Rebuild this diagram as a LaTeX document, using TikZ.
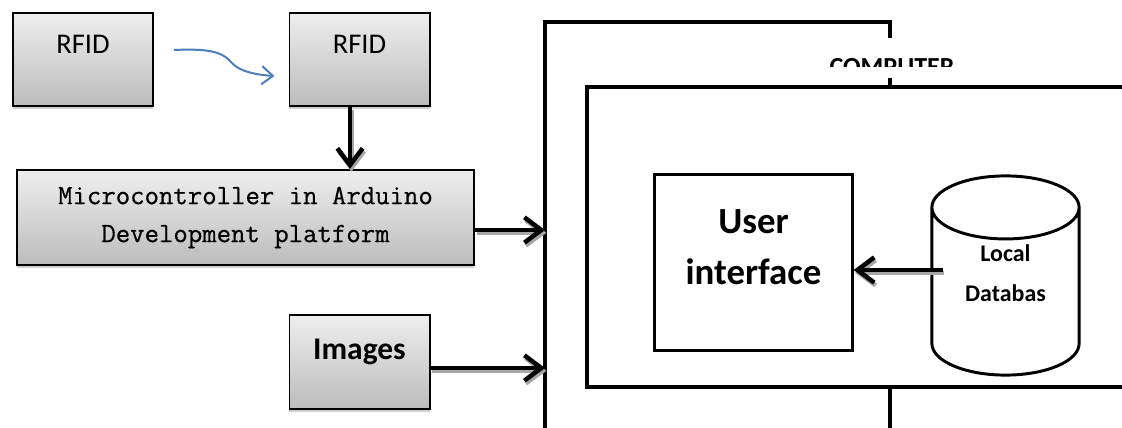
\documentclass[tikz,border=0pt]{standalone}
\usepackage{fontspec}
\setmainfont{Carlito}
\setmonofont{Latin Modern Mono}[FakeBold=0.6]
\usetikzlibrary{positioning, shapes.geometric, arrows.meta, shadows}
\definecolor{linkblue}{RGB}{74,126,187}
\definecolor{boxtop}{RGB}{238,238,238}
\definecolor{boxbottom}{RGB}{188,188,188}

\begin{document}
\begin{tikzpicture}[
  x=0.025cm, y=-0.025cm,
  gbox/.style={rectangle, draw=black, line width=1.4pt,
               top color=boxtop, bottom color=boxbottom,
               drop shadow={shadow xshift=0cm, shadow yshift=-0.08cm, fill=gray!75},
               inner sep=0pt, align=center},
  tagbox/.style={gbox, minimum width=3.5cm, minimum height=2.33cm,
                 text height=1.02cm, text depth=1.3cm,
                 font=\fontsize{20.3}{24}\selectfont},
  uibox/.style={rectangle, draw=black, line width=2.1pt, fill=white,
                minimum width=4.93cm, minimum height=4.38cm, align=center,
                text depth=0.75cm,
                font=\bfseries\fontsize{26.2}{36.3}\selectfont},
  dbcyl/.style={cylinder, shape border rotate=90, draw=black, line width=2.1pt,
                fill=white, aspect=0.7, minimum width=3.68cm, minimum height=4.78cm,
                align=center, text depth=1.2cm, anchor=shape center,
                font=\bfseries\fontsize{17}{28.5}\selectfont},
  frame/.style={line width=2.8pt, black},
  arr/.style={-{Straight Barb[length=12pt, width=18pt]}, line width=3.2pt, black,
              preaction={draw=gray!70, line width=3.2pt,
                         transform canvas={shift={(1pt,-2pt)}}}},
  link/.style={-{Straight Barb[length=8pt, width=13pt]}, line width=1.4pt, linkblue},
]
  \useasboundingbox (0,0) rectangle (1122,427);
  \clip (0,0) rectangle (1122,427);

  % computer frames
  \draw[frame] (545,440) -- (545,22) -- (890,22) -- (890,38);
  \draw[frame] (890,78) -- (890,87);
  \draw[frame] (890,387) -- (890,440);
  \draw[frame] (1140,87) -- (587,87) -- (587,387) -- (1140,387);
  \begin{scope}
    \clip (800,40) rectangle (990,67);
    \node[font=\bfseries\fontsize{18.5}{22}\selectfont, anchor=base] (comp) at (892,76) {COMPUTER};
  \end{scope}

  % input side
  \node[tagbox] (rfidA) at (83,59.5) {RFID};
  \node[tagbox] (rfidB) at (359.5,59.5) {RFID};
  \node[gbox, minimum width=11.43cm, minimum height=2.38cm,
        font=\ttfamily\fontsize{19.9}{27}\selectfont] (micro) at (245.5,217.5)
    {Microcontroller in Arduino\\Development platform};
  \node[tagbox, text height=1.08cm, text depth=1.22cm,
        font=\bfseries\fontsize{22.4}{26}\selectfont] (imgs) at (359.5,362) {Images};

  % inside the computer
  \node[uibox] (ui) at (753.5,262.5) {User\\interface};
  \node[dbcyl] (db) at (1005.5,275.5) {Local\\Databas};

  \coordinate (inA) at (545,230);
  \coordinate (inB) at (545,368);
  \coordinate (dbout) at (943,270);

  \draw[link] ([shift={(20,-9.5)}]rfidA.east)
    .. controls (215,48) and (224,54) .. (232,63)
    .. controls (240,72) and (258,75) .. ([shift={(-14,16.5)}]rfidB.west);
  \draw[arr] ([shift={(-9.5,0)}]rfidB.south) -- ([shift={(-9.5,0)}]rfidB.south |- micro.north);
  \draw[arr] (micro.east |- inA) -- (inA);
  \draw[arr] (imgs.east |- inB) -- (inB);
  \draw[arr] (dbout) -- (dbout -| ui.east);
\end{tikzpicture}
\end{document}
